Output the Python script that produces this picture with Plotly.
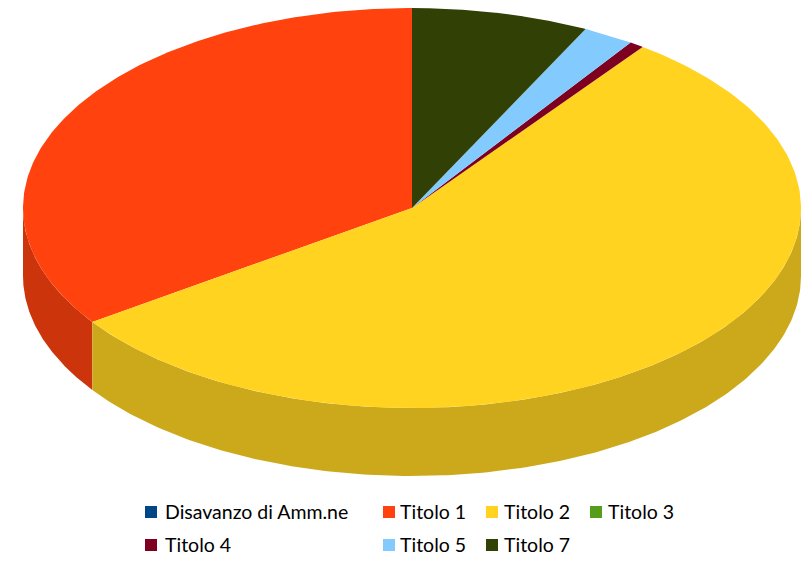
import numpy as np
import plotly.graph_objects as go

labels = ["Disavanzo di Amm.ne", "Titolo 1", "Titolo 2", "Titolo 3", "Titolo 4", "Titolo 5", "Titolo 7"]
values = [0.0, 34.65, 55.25, 0.0, 0.6, 2.14, 7.36]
colors = ["#004586", "#FF420E", "#FFD320", "#579D1C", "#7E0021", "#83CAFF", "#314004"]
side_colors = ["#00376B", "#CC350B", "#CCA91A", "#467E16", "#65001A", "#69A2CC", "#273303"]

# pie geometry in page pixels
cx, cy = 412, 208
rx, ry = 389, 200
depth = 68

# key layout: swatch centres and text starts, same page pixels
key_x = [151, 389, 492, 596, 151, 389, 492]
key_y = [512, 512, 512, 512, 545, 545, 545]
text_x = [166, 401, 505, 609, 166, 401, 505]

ends = np.cumsum(values) / sum(values) * 360
starts = ends - np.array(values) / sum(values) * 360


def rim(a, b, n=200):
    # angle runs counter-clockwise from the top of the ellipse
    t = np.radians(np.linspace(a, b, n))
    return cx - rx * np.sin(t), cy - ry * np.cos(t)


fig = go.Figure()

# outer wall, only the front half of the rim can be seen
for a, b, side in zip(starts, ends, side_colors):
    a2, b2 = max(a, 90), min(b, 270)
    if b2 <= a2:
        continue
    x, y = rim(a2, b2)
    fig.add_trace(go.Scatter(
        x=np.r_[x, x[::-1]], y=np.r_[y, y[::-1] + depth],
        mode="lines", fill="toself", fillcolor=side, line=dict(width=0),
        hoverinfo="skip"))

# top face
for a, b, col, name in zip(starts, ends, colors, labels):
    if b <= a:
        continue
    x, y = rim(a, b)
    fig.add_trace(go.Scatter(
        x=np.r_[cx, x, cx], y=np.r_[cy, y, cy],
        mode="lines", fill="toself", fillcolor=col, line=dict(width=0),
        name=name, hoverinfo="name"))

# key, the native legend puts too wide a gap between swatch and text
for name, col, kx, ky, tx in zip(labels, colors, key_x, key_y, text_x):
    fig.add_trace(go.Scatter(
        x=[kx], y=[ky], mode="markers",
        marker=dict(symbol="square", size=12, color=col),
        hoverinfo="skip"))
    fig.add_annotation(
        x=tx, y=ky, text=name, showarrow=False, xanchor="left", yanchor="middle",
        xshift=-1, yshift=1, borderpad=0, borderwidth=0,
        font=dict(family="Lato", size=19.5, color="#000000"))

fig.update_layout(
    width=801, height=562,
    margin=dict(l=0, r=0, t=0, b=0),
    paper_bgcolor="white", plot_bgcolor="white",
    showlegend=False,
    xaxis=dict(range=[0, 801], visible=False, fixedrange=True),
    yaxis=dict(range=[562, 0], visible=False, fixedrange=True),
)

fig.write_html("out.html", config=dict(displayModeBar=False),
               post_script="document.body.style.margin='0';")
